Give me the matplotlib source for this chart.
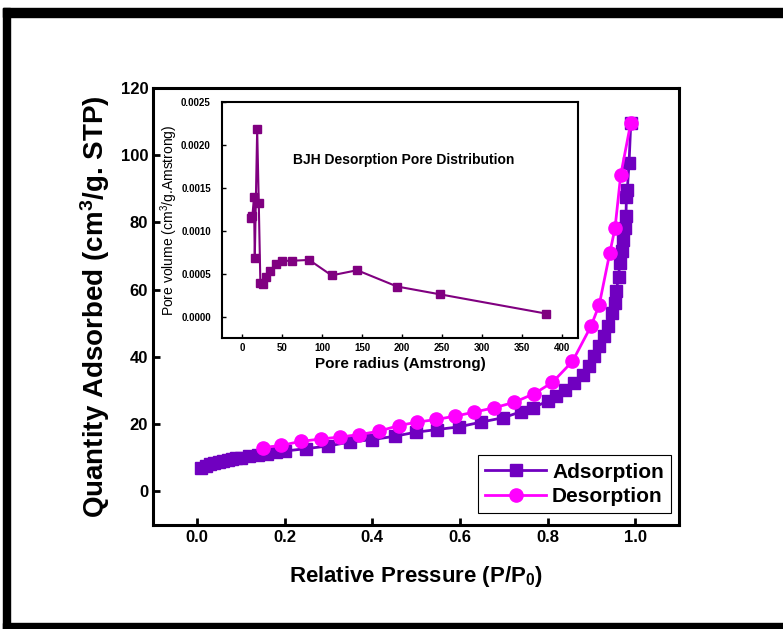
import matplotlib
matplotlib.use("Agg")
import matplotlib.pyplot as plt
from matplotlib.patches import Rectangle

plt.rcParams['font.family'] = ['Liberation Sans', 'DejaVu Sans']
plt.rcParams['mathtext.default'] = 'regular'

# isotherm data
ads_p = [0.01, 0.02, 0.03, 0.04, 0.05, 0.06, 0.07, 0.08, 0.09, 0.10, 0.12, 0.14,
         0.16, 0.18, 0.20, 0.248, 0.299, 0.350, 0.400, 0.451, 0.499, 0.548, 0.598,
         0.648, 0.698, 0.740, 0.766, 0.800, 0.820, 0.840, 0.861, 0.880, 0.895,
         0.907, 0.918, 0.929, 0.937, 0.947, 0.954, 0.957, 0.962, 0.965, 0.970,
         0.973, 0.976, 0.979, 0.980, 0.982, 0.986, 0.990]
ads_q = [7.0, 7.6, 8.1, 8.5, 8.8, 9.1, 9.4, 9.6, 9.8, 10.0, 10.4, 10.8,
         11.2, 11.6, 12.0, 12.7, 13.5, 14.7, 15.4, 16.4, 17.6, 18.4, 19.2,
         20.6, 21.9, 23.7, 24.9, 26.8, 28.3, 30.3, 32.3, 34.7, 37.2,
         40.2, 43.2, 46.1, 49.1, 53.1, 56.0, 59.5, 63.9, 67.9, 71.4,
         74.8, 78.3, 81.8, 87.7, 89.7, 97.6, 109.7]

des_p = [0.990, 0.967, 0.954, 0.942, 0.918, 0.899, 0.857, 0.811, 0.770, 0.724,
         0.679, 0.633, 0.590, 0.546, 0.502, 0.461, 0.415, 0.371, 0.327, 0.284,
         0.238, 0.193, 0.151]
des_q = [109.7, 94.1, 78.3, 70.9, 55.5, 49.1, 38.7, 32.4, 29.1, 26.5,
         24.9, 23.6, 22.4, 21.4, 20.6, 19.6, 17.9, 16.9, 16.2, 15.6,
         14.9, 13.7, 13.0]

# BJH pore distribution
pore_r = [11, 13, 15, 16, 19, 21, 23, 26, 30, 35, 42, 50, 62, 84, 112, 144, 194, 247, 380]
pore_v = [0.00115, 0.00117, 0.00139, 0.00068, 0.00218, 0.00132, 0.00039, 0.00038,
          0.00046, 0.00053, 0.00061, 0.00065, 0.00065, 0.00066, 0.00048, 0.00054,
          0.00035, 0.00026, 0.000035]

ads_color = '#7000C0'
des_color = '#FF00FF'
inset_color = '#800080'

fig = plt.figure(figsize=(7.83, 6.29), dpi=100)

ax = fig.add_axes([0.1954, 0.1653, 0.6718, 0.6948])
ax.plot(ads_p, ads_q, '-s', color=ads_color, lw=2, ms=8.5, label='Adsorption')
ax.plot(des_p, des_q, '-o', color=des_color, lw=2, ms=9.5, label='Desorption')
ax.set_xlim(-0.1, 1.1)
ax.set_ylim(-10, 120)
ax.set_xticks([0.0, 0.2, 0.4, 0.6, 0.8, 1.0])
ax.set_yticks([0, 20, 40, 60, 80, 100, 120])
ax.tick_params(direction='in', length=5, width=2, labelsize=12, top=False, right=False)
for lab in ax.get_xticklabels() + ax.get_yticklabels():
    lab.set_fontweight('bold')
for sp in ax.spines.values():
    sp.set_linewidth(2.2)
ax.set_xlabel('Relative Pressure (P/P$_0$)', fontsize=16, fontweight='bold', labelpad=14)
ax.set_ylabel('Quantity Adsorbed (cm$^3$/g. STP)', fontsize=20, fontweight='bold', labelpad=6)
leg = ax.legend(loc='lower right', bbox_to_anchor=(0.985, 0.027), fancybox=False,
                edgecolor='black', framealpha=1, prop={'weight': 'bold', 'size': 15},
                handlelength=2.9, borderpad=0.35, labelspacing=0.25, handletextpad=0.3,
                borderaxespad=0)
leg.get_frame().set_linewidth(0.8)

# inset
ins = fig.add_axes([0.2835, 0.4626, 0.4546, 0.3752])
ins.plot(pore_r, pore_v, '-s', color=inset_color, lw=1.5, ms=6.2)
ins.set_xlim(-25, 420)
ins.set_ylim(-0.00025, 0.0025)
ins.set_xticks(range(0, 401, 50))
ins.set_yticks([0.0, 0.0005, 0.0010, 0.0015, 0.0020, 0.0025])
ins.set_yticklabels(['0.0000', '0.0005', '0.0010', '0.0015', '0.0020', '0.0025'])
ins.tick_params(direction='in', length=3, width=1, labelsize=7, top=False, right=False)
ins.tick_params(axis='y', pad=8)
for lab in ins.get_xticklabels() + ins.get_yticklabels():
    lab.set_fontweight('bold')
for sp in ins.spines.values():
    sp.set_linewidth(1.5)
ins.set_xlabel('Pore radius (Amstrong)', fontsize=11, fontweight='bold', labelpad=3)
ins.set_ylabel('Pore volume (cm$^3$/g.Amstrong)', fontsize=10, labelpad=1)
ins.text(202, 0.00183, 'BJH Desorption Pore Distribution', fontsize=10,
         fontweight='bold', ha='center', va='center')

# outer frame
fig.add_artist(Rectangle((3 / 783, 1 - 17 / 629), 1, 9 / 629,
                         transform=fig.transFigure, color='black'))
fig.add_artist(Rectangle((3 / 783, 0), 7 / 783, 1 - 8 / 629,
                         transform=fig.transFigure, color='black'))
fig.add_artist(Rectangle((3 / 783, 0), 1, 6 / 629,
                         transform=fig.transFigure, color='black'))

fig.savefig('out.png', dpi=100)
